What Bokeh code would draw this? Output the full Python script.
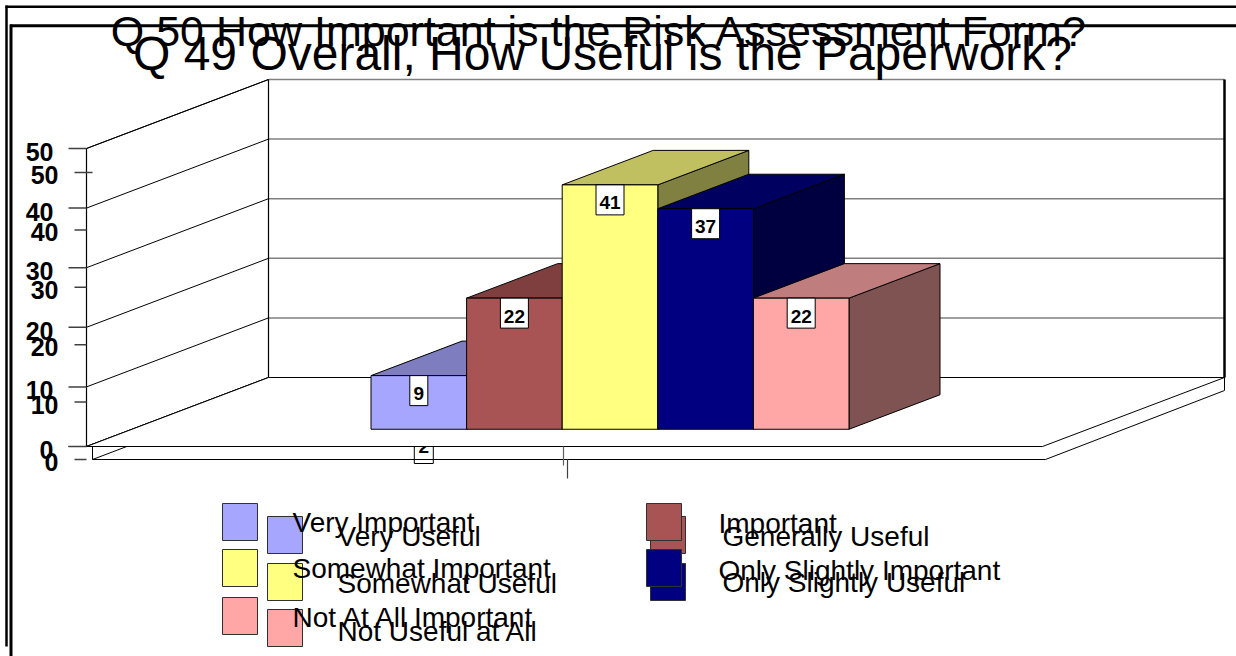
import numpy as np
from bokeh.plotting import figure
from bokeh.models import Range1d
from bokeh.core.properties import value
from bokeh.embed import file_html
from bokeh.resources import INLINE

# ---------------- data ----------------
title_q50 = "Q 50 How Important is the Risk Assessment Form?"
title_q49 = "Q 49 Overall, How Useful is the Paperwork?"
q49_categories = ["Very Useful", "Generally Useful", "Somewhat Useful",
                  "Only Slightly Useful", "Not Useful at All"]
q49_values = [9, 22, 41, 37, 22]
q50_categories = ["Very Important", "Important", "Somewhat Important",
                  "Only Slightly Important", "Not At All Important"]
q50_visible_values = [2]          # only label of the hidden chart that shows
front_colors = ["#A6A6FF", "#A85454", "#FFFF80", "#000080", "#FFA6A6"]
top_colors = ["#7D7DC0", "#7F3F3F", "#C0C060", "#000060", "#C07D7D"]
side_colors = ["#535380", "#542A2A", "#808040", "#000040", "#805353"]
ticks_front = [0, 10, 20, 30, 40, 50]
ticks_second = [0, 10, 20, 30, 40, 50]

# ---------------- geometry ----------------
W, H = 1236, 656
PXU, X0 = 95.6, 86.0      # px per category unit, px of x=0
PYU, Y0 = 5.96, 446.0     # px per value unit, px of value 0


def dx(px):
    return (px - X0) / PXU


def dy(py):
    return (Y0 - py) / PYU


def base(py, size):
    # compensate the renderer's alphabetic offset
    return dy(py - 0.37 * size)


DX = 182.0 / PXU          # full depth, x
DY = 69.0 / PYU           # full depth, y
NSLOT = 10
VMAX = 50
T = 13.0 / PYU            # floor slab thickness
FONT = value("Liberation Sans")

p = figure(width=W, height=H, x_range=Range1d(dx(0), dx(W)),
           y_range=Range1d(dy(H), dy(0)), output_backend="svg",
           toolbar_location=None, x_axis_location=None, y_axis_location=None,
           min_border=0, outline_line_color=None)
p.extra_y_ranges = {"ax2": Range1d((459 - H) / 5.74, 459 / 5.74)}
p.background_fill_color = "white"
p.border_fill_color = "white"
p.xgrid.grid_line_color = None
p.ygrid.grid_line_color = None
p.grid.visible = False

# ---------------- walls ----------------
p.patch([0, DX, DX, 0], [0, DY, VMAX + DY, VMAX], fill_color="white", line_color="black", line_width=1)
p.quad(left=[DX], right=[NSLOT + DX], bottom=[DY], top=[VMAX + DY], fill_color="white", line_color=None)
grid_y = [t + DY for t in ticks_front[1:]]
p.segment(x0=[DX] * len(grid_y), y0=grid_y, x1=[NSLOT + DX] * len(grid_y), y1=grid_y,
          line_color="#808080", line_width=1.5)
p.segment(x0=[DX, DX], y0=[DY, DY], x1=[NSLOT + DX, DX], y1=[DY, VMAX + DY],
          line_color="black", line_width=1.2)
p.segment(x0=[NSLOT + DX], y0=[DY], x1=[NSLOT + DX], y1=[VMAX + DY], line_color="black", line_width=2.5)
p.segment(x0=[0] * len(ticks_front), y0=ticks_front, x1=[DX] * len(ticks_front),
          y1=[t + DY for t in ticks_front], line_color="black", line_width=1)
p.segment(x0=[0], y0=[0], x1=[0], y1=[VMAX], line_color="black", line_width=1.2)

# ---------------- frames and titles ----------------
p.segment(x0=[dx(5), dx(6)], y0=[dy(6.2), dy(5)], x1=[dx(W), dx(6)], y1=[dy(6.2), dy(646)],
          line_color="black", line_width=2.5)
p.text(x=[dx(599)], y=[base(46, 43)], text=[title_q50], text_font=FONT, text_font_size="43px",
       text_align="center", text_baseline="alphabetic", text_color="black")
p.segment(x0=[dx(9.5), dx(10.5)], y0=[dy(25.3), dy(24)], x1=[dx(W), dx(10.5)], y1=[dy(25.3), dy(H)],
          line_color="black", line_width=3)
p.text(x=[dx(602)], y=[base(71, 48)], text=[title_q49], text_font=FONT, text_font_size="48px",
       text_align="center", text_baseline="alphabetic", text_color="black")

# ---------------- floor slab ----------------
xs_l, xs_r = dx(92), dx(1045)
p.quad(left=[xs_l], right=[xs_r], bottom=[-T], top=[0], fill_color="white", line_color=None)
p.patch([NSLOT, NSLOT + DX, NSLOT + DX, xs_r], [0, DY, DY - T, -T], fill_color="white", line_color=None)

# hidden chart's visible label "2"
lab2_x = 2.5 + 0.5 + 0.25 * DX + 5 / PXU
lab2_y = dy(448)
p.rect(x=[lab2_x], y=[lab2_y], width=19, height=30, width_units="screen", height_units="screen",
       fill_color="white", line_color="black", line_width=1)
p.text(x=[lab2_x], y=[dy(446)], text=[str(v) for v in q50_visible_values], text_font=FONT,
       text_font_size="19px", text_font_style="bold", text_align="center", text_baseline="middle")

# floor top face
p.patch([0, NSLOT, NSLOT + DX, DX], [0, 0, DY, DY], fill_color="white", line_color="black", line_width=1)
p.segment(x0=[dx(68), xs_l, xs_l, xs_r, NSLOT + DX, xs_l],
          y0=[0, -T, -T, -T, DY, -T],
          x1=[0, xs_r, xs_l, NSLOT + DX, NSLOT + DX, xs_l + T * DX / DY],
          y1=[0, -T, 0, DY - T, DY - T, 0],
          line_color="black", line_width=1)

# ---------------- axes ----------------
p.segment(x0=[dx(68)] * len(ticks_front), y0=ticks_front, x1=[0] * len(ticks_front), y1=ticks_front,
          line_color="#404040", line_width=1.5)
p.segment(x0=[dx(74)] * len(ticks_second), y0=ticks_second,
          x1=[0] * (len(ticks_second) - 1) + [dx(92)], y1=ticks_second,
          line_color="#404040", line_width=1.5, y_range_name="ax2")
p.text(x=[dx(53)] * len(ticks_front), y=[t - 3.5 / PYU for t in ticks_front],
       text=[str(t) for t in ticks_front], text_font=FONT, text_font_size="25px",
       text_font_style="bold", text_align="right", text_baseline="middle")
p.text(x=[dx(58)] * len(ticks_second), y=[t - 2.5 / 5.74 for t in ticks_second],
       text=[str(t) for t in ticks_second], text_font=FONT, text_font_size="25px",
       text_font_style="bold", text_align="right", text_baseline="middle", y_range_name="ax2")
# category ticks
p.segment(x0=[NSLOT / 2 - 1 / PXU], y0=[0], x1=[NSLOT / 2 - 1 / PXU], y1=[dy(465)],
          line_color="#606060", line_width=1.2)
p.segment(x0=[NSLOT / 2 + 3 / PXU], y0=[-T], x1=[NSLOT / 2 + 3 / PXU], y1=[dy(478)],
          line_color="#404040", line_width=1.2)

# ---------------- 3D bars ----------------
n = len(q49_values)
xl = np.array([2.5 + i + 0.25 * DX for i in range(n)])
xr = xl + 1.0
yb = 0.25 * DY
yt = np.array(q49_values, dtype=float) + yb
hx, hy = 0.5 * DX, 0.5 * DY

p.patches(xs=[[r, r, r + hx, r + hx] for r in xr],
          ys=[[yb, t, t + hy, yb + hy] for t in yt],
          fill_color=side_colors, line_color="black", line_width=1)
p.patches(xs=[[l, r, r + hx, l + hx] for l, r in zip(xl, xr)],
          ys=[[t, t, t + hy, t + hy] for t in yt],
          fill_color=top_colors, line_color="black", line_width=1)
p.quad(left=xl, right=xr, bottom=[yb] * n, top=yt, fill_color=front_colors,
       line_color="black", line_width=1)

# value labels
cx = xl + 0.5
p.rect(x=cx, y=yt - 15 / PYU, width=[18 if v < 10 else 28 for v in q49_values], height=30,
       width_units="screen", height_units="screen", fill_color="white", line_color="black", line_width=1)
p.text(x=cx, y=yt - 18 / PYU, text=[str(v) for v in q49_values], text_font=FONT,
       text_font_size="19px", text_font_style="bold", text_align="center", text_baseline="middle")

# ---------------- legends ----------------
# (box left px, box top px, text x px, text baseline px) per entry
q49_leg = [(267, 516, 337, 546), (650, 516, 722, 546), (267, 563, 337, 593),
           (650, 563, 722, 592), (267, 609, 337, 641)]
q50_leg = [(222, 503, 292, 532), (646, 503, 718, 533), (222, 549, 292, 578),
           (646, 549, 718, 580), (222, 597, 292, 627)]
p.quad(left=[dx(a[0]) for a in q49_leg], right=[dx(a[0] + 35) for a in q49_leg],
       top=[dy(a[1]) for a in q49_leg], bottom=[dy(a[1] + 37) for a in q49_leg],
       fill_color=front_colors, line_color="#303030", line_width=1)
p.quad(left=[dx(a[0]) for a in q50_leg], right=[dx(a[0] + 35) for a in q50_leg],
       top=[dy(a[1]) for a in q50_leg], bottom=[dy(a[1] + 37) for a in q50_leg],
       fill_color=front_colors, line_color="#303030", line_width=1)
p.text(x=[dx(a[2]) for a in q50_leg], y=[base(a[3], 28) for a in q50_leg], text=q50_categories,
       text_font=FONT, text_font_size="28px", text_align="left", text_baseline="alphabetic")
p.text(x=[dx(a[2]) for a in q49_leg], y=[base(a[3], 28) for a in q49_leg], text=q49_categories,
       text_font=FONT, text_font_size="28px", text_align="left", text_baseline="alphabetic")

open("out.html", "w").write(file_html(p, INLINE))
